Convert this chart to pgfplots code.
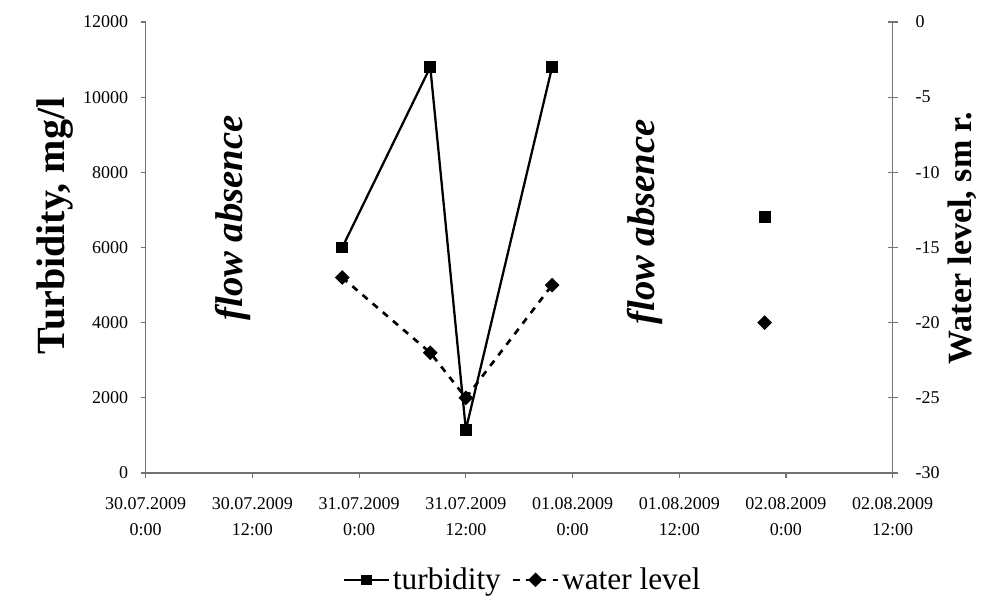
\documentclass[border=0pt]{standalone}
\usepackage{fontspec}
\setmainfont{Liberation Serif}
\usepackage{pgfplots}
\pgfplotsset{compat=1.18}
\begin{document}
\begin{tikzpicture}
\pgfplotsset{
  twin/.style={
    scale only axis, width=560.25pt, height=338.25pt,
    at={(0,0)}, anchor=south west,
    xmin=0, xmax=84,
    axis line style={-, draw=black!55, line width=0.9pt},
    major tick style={draw=black!55, line width=0.9pt},
    /pgf/number format/assume math mode=true,
    /pgf/number format/1000 sep={},
    scaled y ticks=false,
    unbounded coords=jump,
  }
}
% left axis: turbidity
\begin{axis}[
  twin,
  ymin=0, ymax=12000,
  axis x line*=bottom, axis y line*=left,
  tick align=outside, major tick length=3.75pt,
  xtick={0,12,...,84},
  xticklabels={{30.07.2009\\0:00},{30.07.2009\\12:00},{31.07.2009\\0:00},{31.07.2009\\12:00},
               {01.08.2009\\0:00},{01.08.2009\\12:00},{02.08.2009\\0:00},{02.08.2009\\12:00}},
  xticklabel style={align=center, font=\fontsize{13.5}{20}\selectfont, yshift=-11pt},
  ytick={0,2000,...,12000},
  yticklabel style={font=\fontsize{13.5}{16}\selectfont, xshift=-6pt},
  ylabel={Turbidity, mg/l},
  ylabel style={font=\fontsize{30}{32}\selectfont\bfseries,
                at={(axis description cs:-0.121,0.548)}, anchor=center},
]
\addplot[black, line width=1.7pt, mark=square*, mark size=3.6pt] coordinates {
  (22.1,6000) (32,10800) (36,1150) (45.7,10800) (50,nan) (69.6,6800)
};
\node[rotate=90, font=\fontsize{29}{30}\selectfont\bfseries\itshape] at (axis cs:9.8,6785) {flow absence};
\node[rotate=90, font=\fontsize{29}{30}\selectfont\bfseries\itshape] at (axis cs:56.1,6678) {flow absence};
\end{axis}
% right axis: water level
\begin{axis}[
  twin,
  ymin=-30, ymax=0,
  axis x line=none, axis y line*=right,
  tick align=center, major tick length=7.5pt,
  ytick={-30,-25,...,0},
  yticklabel style={font=\fontsize{13.5}{16}\selectfont, xshift=10pt},
  ylabel={Water level, sm r.},
  ylabel style={font=\fontsize{25.5}{28}\selectfont\bfseries,
                at={(axis description cs:1.093,0.521)}, anchor=center},
  legend style={at={(axis description cs:0.505,-0.237)}, anchor=center, draw=none,
                font=\fontsize{23.5}{26}\selectfont,
                /tikz/every even column/.append style={column sep=6pt}},
  legend columns=2,
  legend image code/.code={\draw[mark repeat=2, mark phase=2, #1] plot coordinates {(0pt,0pt) (17pt,0pt) (34pt,0pt)};},
]
\addlegendimage{black, line width=1.7pt, mark=square*, mark size=3pt}
\addlegendentry{turbidity}
\addplot[black, line width=2pt, dash pattern=on 5pt off 5pt,
         mark=square*, mark size=2.9pt, mark options={solid, rotate=45}] coordinates {
  (22.1,-17) (32,-22) (36,-25) (45.7,-17.5) (50,nan) (69.6,-20)
};
\addlegendentry{water level}
\end{axis}
\pgfresetboundingbox
\useasboundingbox (-109.3pt,-96.75pt) rectangle (629.5pt,354.75pt);
\end{tikzpicture}
\end{document}
